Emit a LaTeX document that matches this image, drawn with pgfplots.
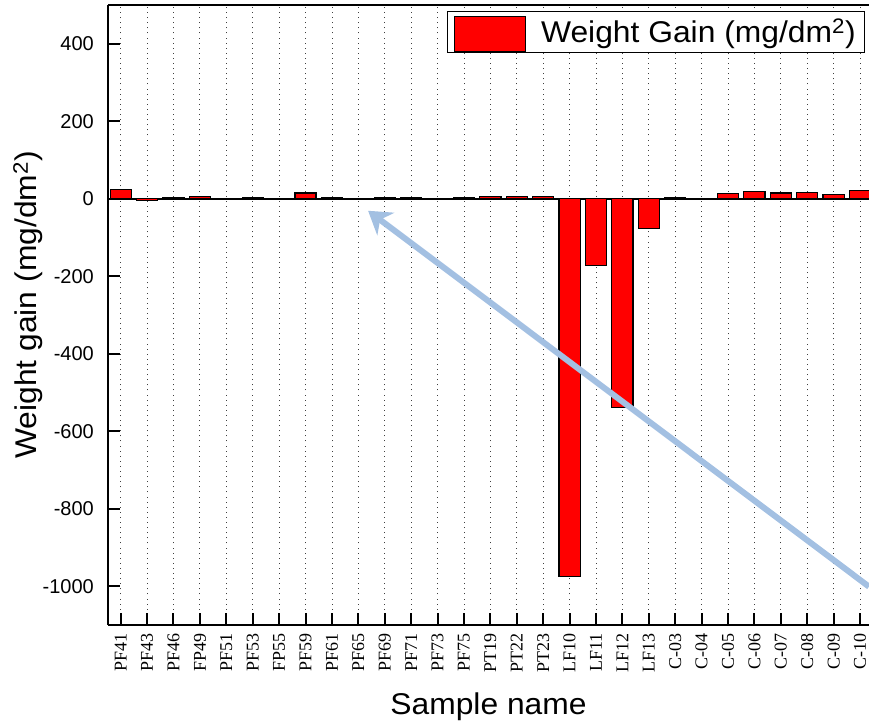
\documentclass[border=0pt]{standalone}
\usepackage{fontspec}
\setmainfont{Liberation Sans}
\newfontfamily\timesf{Liberation Serif}
\newfontfamily\labf{Liberation Sans}[FakeStretch=1.06]
\usepackage{pgfplots}
\pgfplotsset{compat=1.18}
\usetikzlibrary{arrows.meta}
\definecolor{arrowblue}{RGB}{163,192,226}
\begin{document}
\begin{tikzpicture}
\begin{axis}[
  scale only axis, width=761pt, height=620pt,
  xmin=-0.48, xmax=28.34, ymin=-1100, ymax=500,
  axis x line*=box, axis y line*=left,
  axis line style={line width=2pt, black},
  xtick pos=left, ytick pos=left,
  tick align=inside,
  major tick length=12pt,
  tick style={line width=2pt, black},
  xtick={0,...,28},
  xticklabels={PF41,PF43,PF46,FP49,PF51,PF53,FP55,PF59,PF61,PF65,PF69,PF71,PF73,PF75,PT19,PT22,PT23,LF10,LF11,LF12,LF13,C-03,C-04,C-05,C-06,C-07,C-08,C-09,C-10},
  xticklabel style={font=\timesf\fontsize{18}{18}\selectfont, rotate=90, anchor=east, inner sep=0pt, xshift=-8pt},
  ytick={-1000,-800,-600,-400,-200,0,200,400},
  yticklabel={\pgfmathparse{int(\tick)}\pgfmathresult},
  yticklabel style={font=\fontsize{20}{20}\selectfont, anchor=east, inner sep=0pt, xshift=-14pt},
  xmajorgrids,
  major grid style={black!75, line width=0.8pt, dash pattern=on 0.9pt off 4.2pt},
  extra y ticks={0}, extra y tick labels={},
  extra y tick style={grid=major, major grid style={solid, black, line width=2pt}, major tick length=0pt},
  xlabel={Sample name},
  xlabel style={font=\labf\fontsize{30}{30}\selectfont, at={(axis description cs:0.5,0)}, anchor=base, inner sep=0pt, yshift=-90pt},
  ylabel={Weight gain (mg/dm\textsuperscript{2})},
  ylabel style={font=\labf\fontsize{30}{30}\selectfont, at={(axis description cs:0,0.5)}, anchor=base, inner sep=0pt, yshift=71pt, xshift=10pt},
  legend style={at={(axis description cs:1,1)}, anchor=north east, xshift=-4pt, yshift=-6.5pt,
    draw=black, line width=0.8pt, fill=white, inner xsep=7pt, inner ysep=0pt,
    font=\labf\fontsize{30}{30}\selectfont,
    /tikz/every odd column/.style={column sep=13pt}},
  legend image code/.code={\path (0pt,19pt); \draw[#1, line width=1.2pt] (0pt,-20pt) rectangle (71pt,15pt);},
]
\addplot[ybar, bar width=0.8, fill=red, draw=black, line width=1.2pt] coordinates {
 (0,23) (1,-4) (2,2) (3,6) (4,1) (5,4) (6,-2) (7,15) (8,3) (9,-2)
 (10,3) (11,4) (12,1) (13,3) (14,5) (15,6) (16,6)
 (17,-975) (18,-172) (19,-539) (20,-77)
 (21,3) (22,1) (23,14) (24,19) (25,15) (26,17) (27,10) (28,22)
};
\addlegendentry{Weight Gain (mg/dm\textsuperscript{2})}
\draw[arrowblue, line width=6pt, -{Stealth[length=22pt,width=28pt,inset=7pt]}] (axis cs:28.34,-1001) -- (axis cs:9.37,-31);
\end{axis}
\pgfresetboundingbox
\path[use as bounding box] ([shift={(-108pt,-98pt)}]current axis.south west) rectangle ([shift={(0pt,5pt)}]current axis.north east);
\end{tikzpicture}
\end{document}
